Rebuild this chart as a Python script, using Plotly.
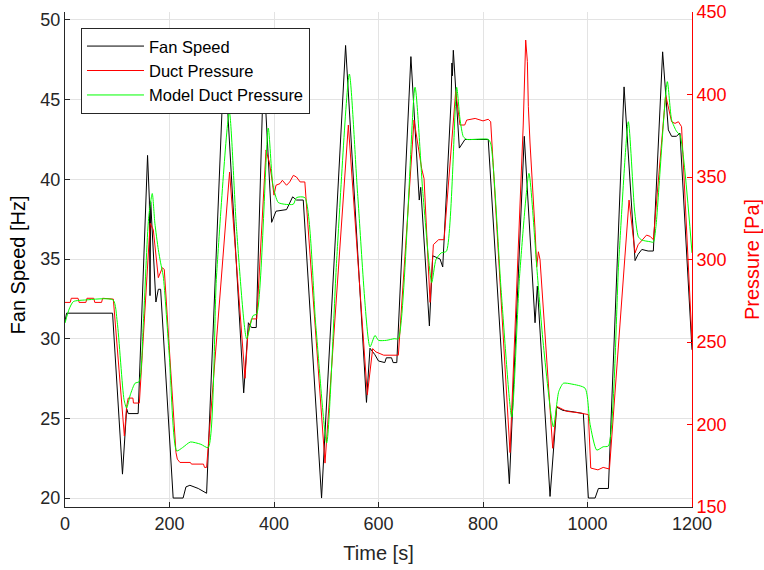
import plotly.graph_objects as go

# Fan speed [Hz] breakpoints
fan_t = [0, 3, 91, 110, 118, 121, 140, 158, 161.5, 162.7, 164, 169, 174, 178.6, 183,
         207, 226, 231.5, 239, 255, 271, 305, 342, 351, 357, 366, 380, 395.5, 403.8,
         424, 435.7, 443, 456, 491, 537, 577, 583.7, 593, 600, 612, 615, 625, 628, 635,
         662, 678, 680.8, 697.4, 703.8, 717.8, 722.9, 739, 740.5, 741.5, 743.2, 754.7,
         765.5, 810, 850.4, 879, 899.6, 904, 928.3, 941, 953, 975, 992, 1001.7, 1014.5,
         1020.9, 1040, 1070, 1091, 1097, 1104, 1116, 1126, 1143.8, 1154.7, 1161, 1170,
         1177, 1200]
fan_hz = [31.1, 31.6, 31.6, 21.5, 25.6, 25.3, 25.3, 41.5, 38.7, 32.7, 38.6, 35.5, 32.3, 33.1, 33.1,
          20.0, 20.0, 20.7, 20.8, 20.6, 20.3, 48.0, 26.6, 31.0, 30.7, 30.7, 47.0, 37.3, 38.0,
          38.1, 38.9, 38.7, 38.7, 20.0, 48.4, 26.0, 29.4, 29.0, 28.6, 28.5, 28.8, 28.8, 28.5, 28.5,
          47.7, 38.7, 39.5, 30.8, 35.2, 35.0, 34.5, 45.0, 47.3, 46.5, 48.1, 41.96,
          42.5, 42.5, 20.9, 42.7, 31.0, 33.3, 20.1, 25.7, 25.5, 25.4, 25.3, 20.0, 20.0,
          20.6, 20.6, 45.8, 34.9, 35.3, 35.6, 35.5, 35.5, 48.0, 43.1, 42.7, 42.7,
          42.9, 29.3]

# Measured duct pressure [Pa] breakpoints
duct_t = [0, 10, 12, 25, 27, 40, 42, 55, 57, 70, 72, 92.5, 113.6, 118, 121, 130, 131, 142.3,
          163, 169, 178.6, 183, 186.3, 190, 212.4, 215, 220, 240, 242, 265, 267, 271,
          315, 344.5, 350, 357, 367, 384.7, 391, 395.5, 400, 403.8, 411.5, 416, 424, 430,
          437, 443, 450, 459, 497.6, 542.3, 578.6, 588.9, 595, 610, 638, 668, 682.7, 687.2,
          698.7, 705, 715, 725.5, 747.7, 756, 765, 768.8, 785, 800, 810, 814.7, 851.7,
          877, 881.7, 884.9, 886.8, 890, 893.2, 896.4, 899.6, 902.8, 906, 909.1, 933.4,
          941, 960, 985, 1001.7, 1006.2, 1020, 1030, 1042, 1079.5, 1091, 1097, 1104, 1113,
          1120, 1126, 1149.5, 1161, 1167.5, 1174, 1180, 1200]
duct_pa = [274, 274, 276.5, 276.5, 274, 274, 276.5, 276.5, 274, 274, 276.5, 276, 193, 211, 216, 216, 213, 213,
           322, 318, 289, 292, 295, 294, 183, 179, 177, 177, 176, 176, 174, 174,
           353, 228, 255, 264, 264, 366.4, 359, 350, 339, 345, 346, 348, 345, 347,
           351, 350, 347, 347, 176.6, 381.5, 218, 246, 244, 242, 242, 384.5, 355, 349,
           274, 309, 312, 312, 401.7, 381.5, 381.5, 384.5, 385.5, 384, 385, 383.5, 183,
           381.5, 433, 420, 392.6, 370.6, 354, 338, 318, 295.6, 304.7, 300, 185.6,
           211, 208, 207, 206, 173.6, 172.5, 174, 173, 336, 304, 309, 311.8, 314.8,
           314, 312, 399.7, 383.5, 382.5, 383.5, 380.5, 251]

# Model duct pressure [Pa] breakpoints
model_t = [0, 8, 16, 40, 92, 100, 113, 118, 125, 134, 142, 150, 160, 167, 172, 178.6, 183,
           188, 200, 213.7, 225, 240, 260, 274, 290, 314.5, 328, 347.7, 360, 367, 389, 398,
           408, 420, 437, 443, 459, 480, 500.8, 520, 544.2, 560, 583.7, 593.3, 600, 615,
           630, 638, 669.9, 685, 701.9, 710, 720, 730, 749.6, 756, 762.4, 768.8, 810, 815,
           835, 854.9, 870, 888, 899.6, 902.8, 915, 934.7, 945, 953.8, 970, 995.3, 1005,
           1017.7, 1030, 1040, 1060, 1078.2, 1090, 1097.3, 1103.7, 1119.6, 1126, 1131,
           1152.8, 1161.1, 1170.7, 1177, 1200]
model_pa = [261.5, 270, 274.5, 275.5, 275.5, 262, 215, 210, 218, 225, 226, 262, 325, 340, 322, 306, 298,
            290, 240, 184, 186, 189.4, 188, 186, 290, 389.4, 320, 252, 266, 267, 379.7, 345,
            334.6, 333.5, 333.5, 337.5, 337.5, 260, 188.8, 300, 412.4, 340, 247, 254, 251, 251,
            252, 252, 404.4, 340, 286, 300, 304, 305, 404.4, 385, 374.4, 372.8, 372.8, 370,
            280, 204.5, 290, 352.2, 310, 296, 250, 198.5, 220, 225, 224.5, 222, 200,
            184.5, 186.5, 187, 300, 383.5, 330, 313.8, 311.8, 310.8, 310.5, 320,
            407.8, 384.5, 377.5, 375.5, 304]

FONT = "Liberation Sans"
AX = "#262626"
GRID = "#e3e3e3"

fig = go.Figure()
fig.add_trace(go.Scatter(x=fan_t, y=fan_hz, mode="lines", name="Fan Speed",
                         line=dict(color="#000000", width=1), yaxis="y"))
fig.add_trace(go.Scatter(x=duct_t, y=duct_pa, mode="lines", name="Duct Pressure",
                         line=dict(color="#ff0000", width=1), yaxis="y2"))
fig.add_trace(go.Scatter(x=model_t, y=model_pa, mode="lines", name="Model Duct Pressure",
                         line=dict(color="#00ff00", width=1, shape="spline", smoothing=0.6),
                         yaxis="y2"))

fig.update_layout(
    width=764, height=570,
    margin=dict(l=65, r=72, t=12, b=63, autoexpand=False),
    paper_bgcolor="white", plot_bgcolor="white",
    font=dict(family=FONT, size=18, color=AX),
    showlegend=True,
    legend=dict(x=0.0255, y=0.968, xanchor="left", yanchor="top",
                bgcolor="white", bordercolor=AX, borderwidth=1,
                font=dict(family=FONT, size=16.5, color="#000000"),
                itemwidth=57, tracegroupgap=0),
    xaxis=dict(range=[0, 1200], tickvals=[0, 200, 400, 600, 800, 1000, 1200],
               ticks="inside", ticklen=5, tickcolor=AX, showline=True, linecolor=AX,
               linewidth=1, showgrid=True, gridcolor=GRID, zeroline=False, automargin=False,
               title=dict(text="Time [s]", font=dict(size=20, color=AX), standoff=13),
               tickfont=dict(size=18, color=AX)),
    yaxis=dict(range=[19.4375, 50.5], tickvals=[20, 25, 30, 35, 40, 45, 50],
               ticks="inside", ticklen=5, tickcolor=AX, showline=True, linecolor=AX,
               linewidth=1, showgrid=True, gridcolor=GRID, zeroline=False, automargin=False,
               tickfont=dict(size=18, color=AX)),
    yaxis2=dict(range=[150, 450], tickvals=[150, 200, 250, 300, 350, 400, 450],
                overlaying="y", side="right", anchor="x",
                ticks="inside", ticklen=5, tickcolor="#ff0000", showline=True,
                linecolor="#ff0000", linewidth=1, showgrid=False, zeroline=False, automargin=False,
                title=dict(text="Pressure [Pa]", font=dict(size=20, color="#ff0000"), standoff=19),
                tickfont=dict(size=18, color="#ff0000")),
    annotations=[dict(text="Fan Speed [Hz]", xref="paper", yref="paper",
                      x=-0.075, y=0.49, xanchor="center", yanchor="middle",
                      textangle=-90, showarrow=False,
                      font=dict(family=FONT, size=20, color="#000000"))],
)

fig.write_html("out.html")
